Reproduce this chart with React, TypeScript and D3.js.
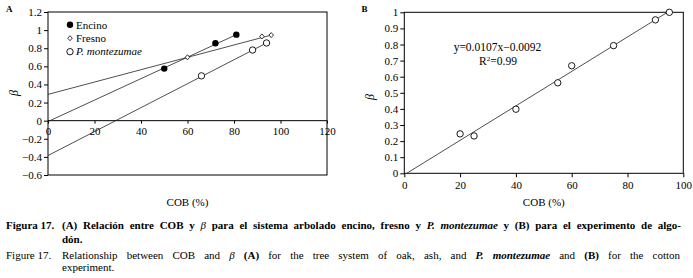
import React, { useEffect, useRef } from "react";
import * as d3 from "d3";

// ---- Panel A data ----
const encinoX = [50, 72, 81];
const encinoY = [0.575, 0.855, 0.95];
const fresnoX = [60, 92, 96];
const fresnoY = [0.7, 0.93, 0.945];
const montezumaeX = [66, 88, 94];
const montezumaeY = [0.495, 0.78, 0.858];
const seriesNamesA = ["Encino", "Fresno", "P. montezumae"];
const trendInterceptsA = [-0.01, 0.29, -0.385];
const trendSlopesA = [0.01185, 0.00682, 0.01322];
const xTicksA = [0, 20, 40, 60, 80, 100, 120];
const yTicksA = [-0.6, -0.4, -0.2, 0, 0.2, 0.4, 0.6, 0.8, 1, 1.2];

// ---- Panel B data ----
const cottonX = [20, 25, 40, 55, 60, 75, 90, 95];
const cottonY = [0.245, 0.232, 0.398, 0.562, 0.668, 0.793, 0.953, 1.0];
const trendSlopeB = 0.0107;
const trendInterceptB = -0.0092;
const xTicksB = [0, 20, 40, 60, 80, 100];
const yTicksB = [0, 0.1, 0.2, 0.3, 0.4, 0.5, 0.6, 0.7, 0.8, 0.9, 1];
const equationB = "y=0.0107x\u22120.0092";
const r2B = "0.99";

const FONT = "Liberation Serif";

const xA = d3.scaleLinear().domain([0, 120]).range([48, 327]);
const yA = d3.scaleLinear().domain([-0.6, 1.2]).range([175, 12]);
const xB = d3.scaleLinear().domain([0, 100]).range([404.3, 683.3]);
const yB = d3.scaleLinear().domain([0, 1]).range([173.3, 12.3]);

const fmt = d3.format("~g");

function diamondPath(cx: number, cy: number, hw: number, hh: number) {
  const p = d3.path();
  p.moveTo(cx, cy - hh);
  p.lineTo(cx + hw, cy);
  p.lineTo(cx, cy + hh);
  p.lineTo(cx - hw, cy);
  p.closePath();
  return p.toString();
}

const line = d3.line<[number, number]>();

type Seg = { t: string; b?: boolean; i?: boolean; n?: boolean };

const captionLine1: Seg[] = [
  { t: "(A) Relación entre COB y " },
  { t: "β", i: true, n: true },
  { t: " para el sistema arbolado encino, fresno y " },
  { t: "P. montezumae", i: true },
  { t: " y (B) para el experimento de algo-" },
];
const captionLine3: Seg[] = [
  { t: "Relationship between COB and " },
  { t: "β", i: true },
  { t: " " },
  { t: "(A)", b: true },
  { t: " for the tree system of oak, ash, and " },
  { t: "P. montezumae", b: true, i: true },
  { t: " and " },
  { t: "(B)", b: true },
  { t: " for the cotton" },
];

export default function App() {
  const axYA = useRef<SVGGElement>(null);
  const axXA = useRef<SVGGElement>(null);
  const axYB = useRef<SVGGElement>(null);
  const axXB = useRef<SVGGElement>(null);
  const cap1 = useRef<SVGTextElement>(null);
  const cap3 = useRef<SVGTextElement>(null);

  useEffect(() => {
    const style = (g: any) => {
      g.select(".domain").remove();
      g.attr("font-family", null).attr("font-size", null);
      g.style("font-family", FONT).style("font-size", "11px");
      g.selectAll("text").attr("fill", "#000");
      g.selectAll("line").attr("stroke", "#000");
    };
    d3.select(axYA.current!)
      .call(d3.axisLeft(yA).tickValues(yTicksA).tickSize(4).tickPadding(2).tickFormat((d: any) => fmt(d)))
      .call(style);
    d3.select(axXA.current!)
      .call(d3.axisBottom(xA).tickValues(xTicksA).tickSize(3).tickPadding(4).tickFormat((d: any) => fmt(d)))
      .call(style);
    d3.select(axYB.current!)
      .call(d3.axisLeft(yB).tickValues(yTicksB).tickSize(4).tickPadding(2).tickFormat((d: any) => fmt(d)))
      .call(style);
    d3.select(axXB.current!)
      .call(d3.axisBottom(xB).tickValues(xTicksB).tickSize(4).tickPadding(4).tickFormat((d: any) => fmt(d)))
      .call(style);

    const justify = () => {
      [
        { el: cap1.current, w: 681 - 62 },
        { el: cap3.current, w: 680 - 62 },
      ].forEach(({ el, w }) => {
        if (!el) return;
        el.setAttribute("word-spacing", "0");
        const natural = el.getComputedTextLength();
        const spaces = ((el.textContent || "").match(/ /g) || []).length;
        if (spaces > 0) el.setAttribute("word-spacing", String((w - natural) / spaces));
      });
    };
    justify();
    (document as any).fonts?.ready?.then(justify);
  }, []);

  const seriesA = [
    { xs: encinoX, ys: encinoY },
    { xs: fresnoX, ys: fresnoY },
    { xs: montezumaeX, ys: montezumaeY },
  ];

  const trendA = seriesA.map((s, k) => {
    const x1 = d3.max(s.xs) as number;
    return line([
      [xA(0), yA(trendInterceptsA[k])],
      [xA(x1), yA(trendInterceptsA[k] + trendSlopesA[k] * x1)],
    ]);
  });

  const bx0 = -trendInterceptB / trendSlopeB;
  const bx1 = Math.min(d3.max(cottonX) as number, (1 - trendInterceptB) / trendSlopeB);
  const trendB = line([
    [xB(bx0), yB(trendInterceptB + trendSlopeB * bx0)],
    [xB(bx1), yB(trendInterceptB + trendSlopeB * bx1)],
  ]);

  const lineStroke = "#222";
  const lw = 0.8;
  const r = 3.2;

  const renderSegs = (segs: Seg[], baseBold: boolean) =>
    segs.map((s, k) => (
      <tspan
        key={k}
        fontStyle={s.i ? "italic" : "normal"}
        fontWeight={s.n ? "normal" : s.b || baseBold ? "bold" : "normal"}
      >
        {s.t}
      </tspan>
    ));

  return (
    <div style={{ position: "absolute", left: 0, top: 0 }}>
      <svg width={693} height={278} style={{ display: "block", background: "#fff", fontFamily: FONT }}>
        <rect x={0} y={0} width={693} height={278} fill="#fff" />

        {/* ===== Panel A ===== */}
        <text x={6} y={12} fontSize={9} fontWeight="bold">A</text>
        <rect x={xA(0)} y={yA(1.2)} width={xA(120) - xA(0)} height={yA(-0.6) - yA(1.2)} fill="none" stroke="#000" strokeWidth={1} />
        <line x1={xA(0)} x2={xA(120)} y1={yA(0)} y2={yA(0)} stroke="#000" strokeWidth={1} />
        <g ref={axYA} transform={`translate(${xA(0)},0)`} />
        <g ref={axXA} transform={`translate(0,${yA(0)})`} />

        {trendA.map((d, k) => (
          <path key={k} d={d || ""} fill="none" stroke={lineStroke} strokeWidth={lw} />
        ))}

        {encinoX.map((x, k) => (
          <circle key={"e" + k} cx={xA(x)} cy={yA(encinoY[k])} r={r} fill="#000" />
        ))}
        {fresnoX.map((x, k) => (
          <path key={"f" + k} d={diamondPath(xA(x), yA(fresnoY[k]), 2.3, 2.5)} fill="#fff" stroke="#000" strokeWidth={0.8} />
        ))}
        {montezumaeX.map((x, k) => (
          <circle key={"m" + k} cx={xA(x)} cy={yA(montezumaeY[k])} r={r} fill="#fff" stroke="#000" strokeWidth={0.9} />
        ))}

        {/* legend */}
        <circle cx={70} cy={24.7} r={r} fill="#000" />
        <text x={76} y={28.5} fontSize={11}>{seriesNamesA[0]}</text>
        <path d={diamondPath(70, 38.2, 2.3, 2.5)} fill="#fff" stroke="#000" strokeWidth={0.8} />
        <text x={76} y={42} fontSize={11}>{seriesNamesA[1]}</text>
        <circle cx={70} cy={51.7} r={r} fill="#fff" stroke="#000" strokeWidth={0.9} />
        <text x={76} y={55.3} fontSize={11} fontStyle="italic">{seriesNamesA[2]}</text>

        <text x={(xA(0) + xA(120)) / 2} y={206} fontSize={11} textAnchor="middle">COB (%)</text>
        <text transform="translate(14,93) rotate(-90)" fontSize={12} fontStyle="italic" textAnchor="middle" dy="0.35em">β</text>

        {/* ===== Panel B ===== */}
        <text x={361.5} y={11.7} fontSize={9} fontWeight="bold">B</text>
        <rect x={xB(0)} y={yB(1)} width={xB(100) - xB(0)} height={yB(0) - yB(1)} fill="none" stroke="#000" strokeWidth={1} />
        <g ref={axYB} transform={`translate(${xB(0)},0)`} />
        <g ref={axXB} transform={`translate(0,${yB(0)})`} />
        <path d={trendB || ""} fill="none" stroke={lineStroke} strokeWidth={lw} />
        {cottonX.map((x, k) => (
          <circle key={"c" + k} cx={xB(x)} cy={yB(cottonY[k])} r={r} fill="#fff" stroke="#000" strokeWidth={0.9} />
        ))}
        <text x={497.5} y={50.5} fontSize={11.5} textAnchor="middle">{equationB}</text>
        <text x={498} y={65} fontSize={11.5} textAnchor="middle">
          R<tspan fontSize={7} dy={-4}>2</tspan>
          <tspan dy={4}>{"=" + r2B}</tspan>
        </text>
        <text x={(xB(0) + xB(100)) / 2} y={206} fontSize={11} textAnchor="middle">COB (%)</text>
        <text transform="translate(370,97) rotate(-90)" fontSize={12} fontStyle="italic" textAnchor="middle" dy="0.35em">β</text>

        {/* ===== Caption ===== */}
        <text x={6} y={229} fontSize={11} fontWeight="bold">Figura 17.</text>
        <text ref={cap1} x={62} y={229} fontSize={11} fontWeight="bold">
          {renderSegs(captionLine1, true)}
        </text>
        <text x={62} y={242.5} fontSize={11} fontWeight="bold">dón.</text>
        <text x={6} y={258.5} fontSize={11}>Figure 17.</text>
        <text ref={cap3} x={62} y={258.5} fontSize={11}>
          {renderSegs(captionLine3, false)}
        </text>
        <text x={62} y={271} fontSize={11}>experiment.</text>
      </svg>
    </div>
  );
}
